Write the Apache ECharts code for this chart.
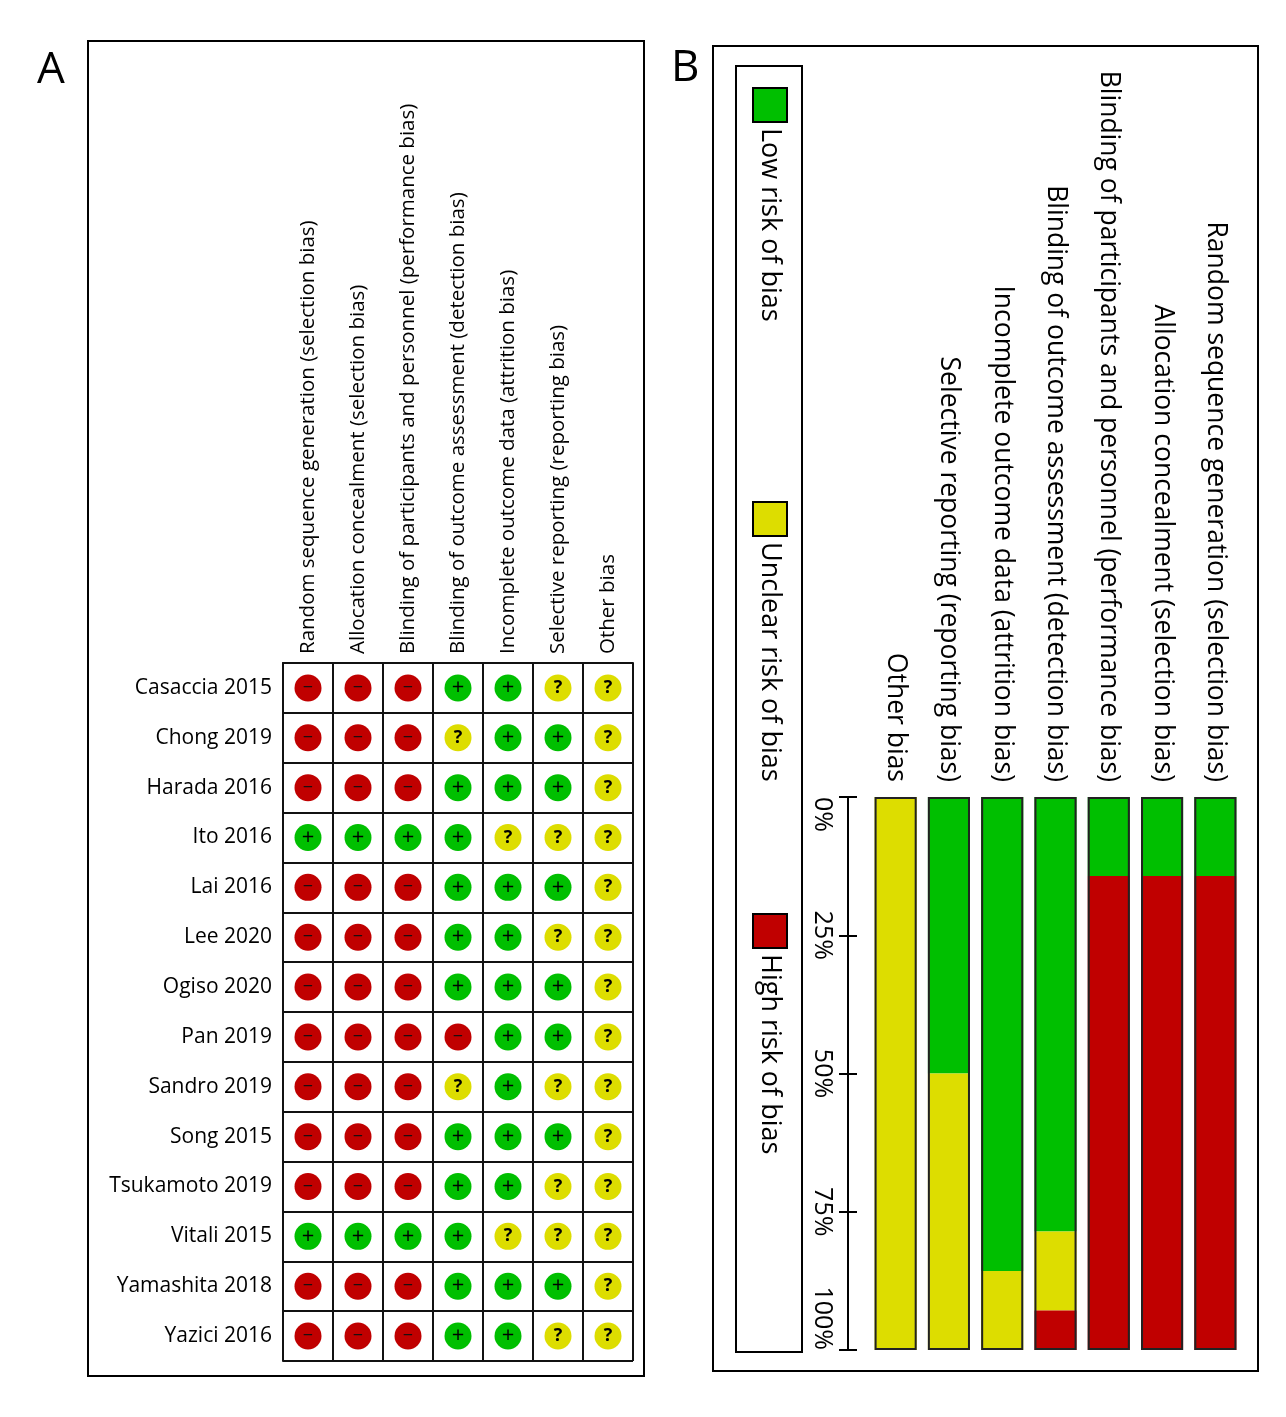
<!DOCTYPE html>
<html>
<head>
<meta charset="utf-8">
<script src="https://cdn.jsdelivr.net/npm/echarts@6/dist/echarts.min.js"></script>
<style>
    html, body { margin: 0; padding: 0; background: #fff; }
    #chart { width: 1286px; height: 1417px; }
</style>
</head>
<body>
<div id="chart"></div>
<script>
    var studies = ['Casaccia 2015', 'Chong 2019', 'Harada 2016', 'Ito 2016', 'Lai 2016', 'Lee 2020', 'Ogiso 2020',
        'Pan 2019', 'Sandro 2019', 'Song 2015', 'Tsukamoto 2019', 'Vitali 2015', 'Yamashita 2018', 'Yazici 2016'];

    var domains = [
        'Random sequence generation (selection bias)',
        'Allocation concealment (selection bias)',
        'Blinding of participants and personnel (performance bias)',
        'Blinding of outcome assessment (detection bias)',
        'Incomplete outcome data (attrition bias)',
        'Selective reporting (reporting bias)',
        'Other bias'
    ];

    // one row per study, one mark per domain: + low, ? unclear, - high
    var judgements = [
        ['-', '-', '-', '+', '+', '?', '?'],
        ['-', '-', '-', '?', '+', '+', '?'],
        ['-', '-', '-', '+', '+', '+', '?'],
        ['+', '+', '+', '+', '?', '?', '?'],
        ['-', '-', '-', '+', '+', '+', '?'],
        ['-', '-', '-', '+', '+', '?', '?'],
        ['-', '-', '-', '+', '+', '+', '?'],
        ['-', '-', '-', '-', '+', '+', '?'],
        ['-', '-', '-', '?', '+', '?', '?'],
        ['-', '-', '-', '+', '+', '+', '?'],
        ['-', '-', '-', '+', '+', '?', '?'],
        ['+', '+', '+', '+', '?', '?', '?'],
        ['-', '-', '-', '+', '+', '+', '?'],
        ['-', '-', '-', '+', '+', '?', '?']
    ];

    var percentTicks = ['0%', '25%', '50%', '75%', '100%'];
    var legendNames = ['Low risk of bias', 'Unclear risk of bias', 'High risk of bias'];
    var legendMarks = ['+', '?', '-'];

    var riskColors = { '+': '#00bf00', '?': '#dddd00', '-': '#c00000' };
    var font = '"Open Sans", sans-serif';

    // share of studies per domain for one judgement
    function share(mark) {
        return domains.map(function (d, j) {
            var n = 0;
            judgements.forEach(function (row) {
                if (row[j] === mark) n++;
            });
            return n / studies.length * 100;
        });
    }

    var dots = [];
    judgements.forEach(function (row, i) {
        row.forEach(function (mark, j) {
            dots.push({
                value: [domains[j], studies[i]],
                itemStyle: { color: riskColors[mark], opacity: 1 },
                label: mark === '+' ? { formatter: '+', fontSize: 22 }
                    : mark === '?' ? { formatter: '?', fontSize: 18, fontWeight: 'bold' }
                    : { formatter: '\u2212', fontSize: 18, color: '#111' }
            });
        });
    });

    var chart = echarts.init(document.getElementById('chart'));

    // legend of panel B, drawn rotated like the rest of the panel
    var legendGraphics = [];
    legendNames.forEach(function (name, k) {
        var top = [88, 502, 914][k];
        legendGraphics.push({
            type: 'rect',
            shape: { x: 753, y: top, width: 34, height: 34 },
            style: { fill: riskColors[legendMarks[k]], stroke: '#000', lineWidth: 2 }
        });
        legendGraphics.push({
            type: 'text',
            x: 770, y: top + 40,
            rotation: -Math.PI / 2,
            style: { text: name, font: '27px ' + font, fill: '#000', textAlign: 'left', textVerticalAlign: 'middle' }
        });
    });

    var option = {
        animation: false,
        backgroundColor: '#fff',
        textStyle: { fontFamily: font },
        graphic: [
            { type: 'rect', shape: { x: 88, y: 41, width: 556, height: 1335 }, style: { fill: 'none', stroke: '#000', lineWidth: 2 } },
            { type: 'rect', shape: { x: 713, y: 46, width: 545, height: 1325 }, style: { fill: 'none', stroke: '#000', lineWidth: 2 } },
            { type: 'rect', shape: { x: 736, y: 66, width: 66, height: 1286 }, style: { fill: 'none', stroke: '#000', lineWidth: 2 } },
            { type: 'text', x: 37, y: 48, style: { text: 'A', font: '44px ' + font, fill: '#000' } },
            { type: 'text', x: 671, y: 46, style: { text: 'B', font: '44px ' + font, fill: '#000' } }
        ].concat(legendGraphics),
        grid: [
            { left: 283, top: 663, width: 350, height: 698, outerBoundsMode: 'none' },
            { left: 869, top: 797, width: 373, height: 553, outerBoundsMode: 'none' }
        ],
        xAxis: [
            {
                gridIndex: 0,
                type: 'category',
                position: 'top',
                data: domains,
                axisLine: { show: true, lineStyle: { color: '#111', width: 2 } },
                axisTick: { show: false },
                splitLine: { show: true, lineStyle: { color: '#111', width: 2 } },
                axisLabel: { rotate: -90, margin: 9, fontSize: 20.5, color: '#000', interval: 0 }
            },
            {
                gridIndex: 1,
                type: 'category',
                position: 'top',
                inverse: true,
                data: domains,
                axisLine: { show: false },
                axisTick: { show: false },
                axisLabel: { rotate: -90, margin: 15, fontSize: 26.5, color: '#000', interval: 0 }
            }
        ],
        yAxis: [
            {
                gridIndex: 0,
                type: 'category',
                inverse: true,
                data: studies,
                axisLine: { show: true, lineStyle: { color: '#111', width: 2 } },
                axisTick: { show: false },
                splitLine: { show: true, lineStyle: { color: '#111', width: 2 } },
                axisLabel: { margin: 11, fontSize: 21, color: '#000', interval: 0 }
            },
            {
                gridIndex: 1,
                type: 'value',
                position: 'left',
                offset: 21,
                inverse: true,
                min: 0,
                max: 100,
                interval: 25,
                axisLine: { show: true, lineStyle: { color: '#000', width: 2 } },
                axisTick: { show: true, length: 9, lineStyle: { color: '#000', width: 2 } },
                splitLine: { show: false },
                axisLabel: {
                    rotate: -90, margin: 13, fontSize: 25, color: '#000',
                    alignMinLabel: 'left', alignMaxLabel: 'right',
                    formatter: function (v) { return percentTicks[v / 25]; }
                }
            },
            {
                gridIndex: 1,
                type: 'value',
                position: 'left',
                offset: 21,
                inverse: true,
                min: 0,
                max: 100,
                interval: 25,
                axisLine: { show: false },
                axisTick: { show: true, inside: true, length: 9, lineStyle: { color: '#000', width: 2 } },
                splitLine: { show: false },
                axisLabel: { show: false }
            }
        ],
        series: [
            {
                type: 'scatter',
                xAxisIndex: 0,
                yAxisIndex: 0,
                symbol: 'circle',
                symbolSize: 27,
                itemStyle: { opacity: 1 },
                data: dots,
                label: { show: true, position: 'inside', color: '#000', fontFamily: font }
            },
            {
                name: legendNames[0], type: 'bar', stack: 'risk', xAxisIndex: 1, yAxisIndex: 1,
                barWidth: '79%', itemStyle: { color: riskColors['+'] }, data: share('+')
            },
            {
                name: legendNames[1], type: 'bar', stack: 'risk', xAxisIndex: 1, yAxisIndex: 1,
                barWidth: '79%', itemStyle: { color: riskColors['?'] }, data: share('?')
            },
            {
                name: legendNames[2], type: 'bar', stack: 'risk', xAxisIndex: 1, yAxisIndex: 1,
                barWidth: '79%', itemStyle: { color: riskColors['-'] }, data: share('-')
            },
            {
                // black outline round each whole bar
                type: 'bar', xAxisIndex: 1, yAxisIndex: 1, barWidth: '79%', barGap: '-100%', z: 5,
                silent: true,
                itemStyle: { color: 'rgba(0,0,0,0)', borderColor: '#222', borderWidth: 2 },
                data: domains.map(function () { return 100; })
            }
        ]
    };

    chart.setOption(option);
</script>
</body>
</html>
